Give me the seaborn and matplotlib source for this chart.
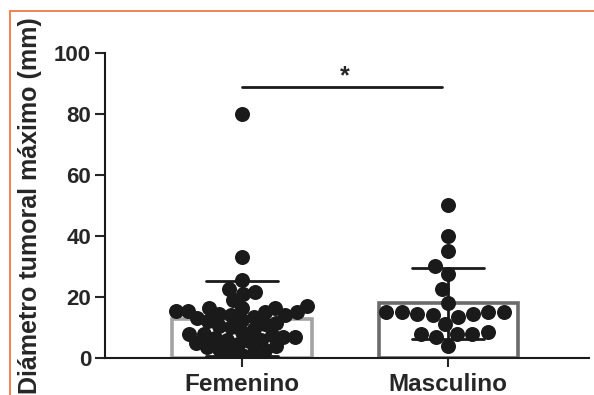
import seaborn as sns
import matplotlib.pyplot as plt
from matplotlib.lines import Line2D
import pandas as pd

sns.set_style("ticks")
plt.rcParams['font.family'] = ['Liberation Sans', 'DejaVu Sans']
plt.rcParams['font.weight'] = 'bold'

# datos (mm)
grupos = ["Femenino", "Masculino"]
femenino = [80, 33, 25.5, 22.5, 21.5, 21, 19, 17, 16.5, 16.5, 16.5, 15.5, 15.5,
            15, 15, 14.5, 14, 14, 13.5, 13, 12.5, 12, 11.5, 11, 10.5, 10, 9.5,
            8.5, 8, 8, 7.5, 7, 7, 6.5, 6, 6, 5.5, 5, 4.5, 4, 3.5, 3, 2.5, 2, 1.5, 1]
masculino = [50, 40, 35, 30, 27.5, 22.5, 18,
             15, 15, 14.5, 14, 11, 13.5, 14.5, 15, 15,
             8, 7, 8, 8, 8.5, 4]
sig_y = 89
star_y = 88.3
y_ticks = [0, 20, 40, 60, 80, 100]

df = pd.DataFrame({
    "grupo": [grupos[0]] * len(femenino) + [grupos[1]] * len(masculino),
    "diametro": femenino + masculino,
})

fig = plt.figure(figsize=(5.94, 3.95), dpi=100)
ax = fig.add_axes([0.1768, 0.0937, 0.8148, 0.7721])

sns.barplot(data=df, x="grupo", y="diametro", order=grupos, errorbar="sd",
            capsize=0.35, width=0.675, color="white", linewidth=2.6,
            err_kws={"color": "#1a1a1a", "linewidth": 2}, ax=ax)
for patch, ec in zip(ax.patches, ["#a3a3a3", "#6b6b6b"]):
    patch.set_edgecolor(ec)
    patch.set_facecolor("white")

# el grupo femenino esta mas apretado que el masculino
n_before = len(ax.collections)
for g, s in zip(grupos, [8.2, 10.6]):
    sns.swarmplot(data=df[df["grupo"] == g], x="grupo", y="diametro", order=grupos,
                  color="#1a1a1a", size=s, ax=ax, zorder=4)
ax.set_xlim(-0.665, 1.684)
ax.set_ylim(0, 100)

# fijar posiciones del enjambre y dibujar todos los puntos del mismo tamaño
fig.canvas.draw()
for coll in ax.collections[n_before:]:
    if "draw" in coll.__dict__:
        del coll.draw
    coll.set_sizes([10.8 ** 2])
    coll.set_linewidth(0)

# barra de significancia
ax.plot([0, 0.97], [sig_y, sig_y], color="#1a1a1a", lw=2, zorder=5)
ax.text(0.5, star_y, "*", ha="center", va="bottom", fontsize=18, fontweight="bold")

ax.set_yticks(y_ticks)
ax.set_xlabel("")
ax.set_ylabel("Diámetro tumoral máximo (mm)", fontsize=18, fontweight="bold")
ax.yaxis.set_label_coords(-0.155, 0.5)
ax.yaxis.label.set_va("center")
ax.tick_params(axis="y", direction="out", length=7, width=1.5, pad=3, labelsize=16)
ax.tick_params(axis="x", direction="out", length=6.5, width=1.5, pad=4, labelsize=17.5)
for lab in ax.get_xticklabels() + ax.get_yticklabels():
    lab.set_fontweight("bold")
sns.despine(ax=ax)
for s in ["left", "bottom"]:
    ax.spines[s].set_linewidth(1.5)
    ax.spines[s].set_color("#1a1a1a")

# marco naranja del recorte
fig.add_artist(Line2D([9.5 / 594, 1], [1 - 10.5 / 395] * 2, transform=fig.transFigure,
                      color="#ef7a45", lw=1.3))
fig.add_artist(Line2D([9.5 / 594] * 2, [0, 1 - 10.5 / 395], transform=fig.transFigure,
                      color="#ef7a45", lw=1.3))

fig.savefig("out.png", dpi=100)
